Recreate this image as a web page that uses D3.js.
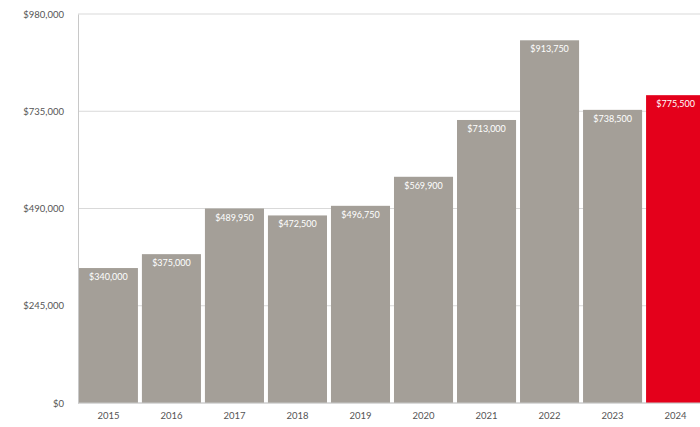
<!DOCTYPE html>
<html>
<head>
<meta charset="utf-8">
<script src="https://cdn.jsdelivr.net/npm/d3@7/dist/d3.min.js"></script>
<style>
  html, body { margin: 0; padding: 0; background: #fff; }
  svg { display: block; }
  .tick text { font-family: Lato, "Open Sans", sans-serif; }
</style>
</head>
<body>
<svg id="chart" width="700" height="427"></svg>
<script>
// Median sale price by year
const years = ["2015", "2016", "2017", "2018", "2019", "2020", "2021", "2022", "2023", "2024"];
const prices = [340000, 375000, 489950, 472500, 496750, 569900, 713000, 913750, 738500, 775500];
const yTicks = [0, 245000, 490000, 735000, 980000];
const highlightYear = "2024";

const svg = d3.select("#chart");
const W = 700, H = 427;
const margin = { left: 78, top: 14, bottom: 24 };
const plotRight = 700;

const x = d3.scaleBand()
  .domain(years)
  .range([margin.left - 1, margin.left - 1 + 63 * years.length])
  .paddingInner(0.063)
  .paddingOuter(0.03);

const y = d3.scaleLinear()
  .domain([0, 980000])
  .range([H - margin.bottom, margin.top]);

const fmt = d3.format("$,");

// horizontal gridlines
svg.append("g")
  .selectAll("line")
  .data(yTicks)
  .join("line")
  .attr("x1", margin.left)
  .attr("x2", plotRight)
  .attr("y1", d => y(d))
  .attr("y2", d => y(d))
  .attr("stroke", "#d9d9d9")
  .attr("stroke-width", 1);

// bars
svg.append("g")
  .selectAll("rect")
  .data(years)
  .join("rect")
  .attr("x", d => x(d))
  .attr("width", x.bandwidth())
  .attr("y", (d, i) => y(prices[i]))
  .attr("height", (d, i) => y(0) - y(prices[i]))
  .attr("fill", d => d === highlightYear ? "#e4001b" : "#a49f98");

// value labels inside bar tops
svg.append("g")
  .selectAll("text")
  .data(years)
  .join("text")
  .attr("x", d => x(d) + x.bandwidth() / 2)
  .attr("y", (d, i) => y(prices[i]) + 12)
  .attr("text-anchor", "middle")
  .attr("font-family", "Lato, 'Open Sans', sans-serif")
  .attr("font-size", 9)
  .attr("fill", "#ffffff")
  .text((d, i) => fmt(prices[i]));

// y axis
const yAxis = svg.append("g")
  .attr("transform", `translate(${margin.left},0)`)
  .call(d3.axisLeft(y).tickValues(yTicks).tickFormat(fmt).tickSize(0).tickPadding(14));
yAxis.select(".domain").attr("stroke", "#c8c8c8");
yAxis.selectAll(".tick text").attr("font-size", 9.5).attr("fill", "#555");

// x axis
const xAxis = svg.append("g")
  .attr("transform", `translate(0,${y(0)})`)
  .call(d3.axisBottom(x).tickSize(0).tickPadding(9));
xAxis.select(".domain").attr("stroke", "#c8c8c8").attr("d", `M${margin.left},0H${plotRight}`);
xAxis.selectAll(".tick text").attr("font-size", 9.5).attr("fill", "#555");
</script>
</body>
</html>
